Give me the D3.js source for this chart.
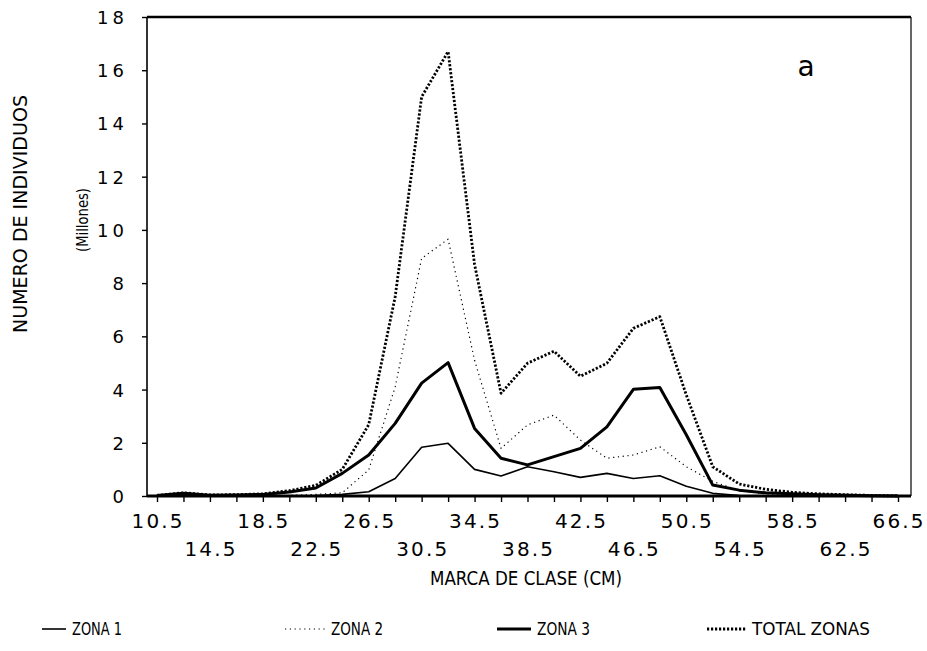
<!DOCTYPE html>
<html>
<head>
<meta charset="utf-8">
<script src="https://cdn.jsdelivr.net/npm/d3@7"></script>
<style>
  html, body { margin: 0; padding: 0; background: #fff; }
  svg { display: block; }
  text { font-family: "DejaVu Sans", "Liberation Sans", sans-serif; fill: #000; }
</style>
</head>
<body>
<svg id="chart" width="927" height="651"></svg>
<script>
// Class marks (cm)
const classMarks = [10.5, 12.5, 14.5, 16.5, 18.5, 20.5, 22.5, 24.5, 26.5, 28.5,
                    30.5, 32.5, 34.5, 36.5, 38.5, 40.5, 42.5, 44.5, 46.5, 48.5,
                    50.5, 52.5, 54.5, 56.5, 58.5, 60.5, 62.5, 64.5, 66.5];

// Number of individuals (millions) per zone
const zona1 = [0, 0, 0, 0, 0, 0.01, 0.02, 0.06, 0.16, 0.66,
               1.83, 1.98, 1.0, 0.75, 1.1, 0.91, 0.7, 0.85, 0.66, 0.76,
               0.37, 0.1, 0.02, 0.01, 0, 0, 0, 0, 0];
const zona2 = [0, 0, 0, 0, 0, 0.02, 0.06, 0.12, 0.98, 4.1,
               8.93, 9.65, 5.1, 1.79, 2.67, 3.04, 2.1, 1.42, 1.54, 1.85,
               1.1, 0.55, 0.2, 0.08, 0.05, 0.03, 0.02, 0, 0];
const zona3 = [0.02, 0.1, 0.03, 0.04, 0.06, 0.15, 0.3, 0.85, 1.54, 2.73,
               4.24, 5.01, 2.54, 1.42, 1.17, 1.48, 1.79, 2.6, 4.01, 4.08,
               2.3, 0.41, 0.22, 0.12, 0.08, 0.05, 0.03, 0.01, 0];
const totalZonas = [0.02, 0.12, 0.04, 0.05, 0.08, 0.2, 0.4, 1.0, 2.68, 7.49,
                    15.0, 16.7, 8.7, 3.86, 4.99, 5.44, 4.5, 4.99, 6.3, 6.74,
                    3.8, 1.1, 0.45, 0.25, 0.14, 0.08, 0.05, 0.02, 0];

// Axis ticks and labels
const yTicks = [0, 2, 4, 6, 8, 10, 12, 14, 16, 18];
const xLabelsUpper = ["10.5", "18.5", "26.5", "34.5", "42.5", "50.5", "58.5", "66.5"];
const xLabelsLower = ["14.5", "22.5", "30.5", "38.5", "46.5", "54.5", "62.5"];

const seriesNames = ["ZONA 1", "ZONA 2", "ZONA 3", "TOTAL ZONAS"];

const svg = d3.select("#chart");

const frame = { left: 147, right: 911, top: 17, bottom: 496 };
const x = d3.scaleLinear().domain([10.5, 66.5]).range([157, 898]);
const y = d3.scaleLinear().domain([0, 18]).range([frame.bottom, frame.top]);

// Line styles per series
const styles = [
  { width: 1.6, dash: null },
  { width: 1.2, dash: "1.2,3.6" },
  { width: 3, dash: null },
  { width: 2.8, dash: "2.2,1.8" }
];
const seriesData = [zona1, zona2, zona3, totalZonas];

// Frame
svg.append("line").attr("x1", frame.left).attr("x2", frame.right)
  .attr("y1", frame.top).attr("y2", frame.top)
  .attr("stroke", "#000").attr("stroke-width", 2.5);
svg.append("line").attr("x1", frame.right).attr("x2", frame.right)
  .attr("y1", frame.top).attr("y2", frame.bottom)
  .attr("stroke", "#000").attr("stroke-width", 1.2);
svg.append("line").attr("x1", frame.left).attr("x2", frame.left)
  .attr("y1", frame.top).attr("y2", frame.bottom + 1)
  .attr("stroke", "#000").attr("stroke-width", 1.6);

// Y axis
const yAxis = d3.axisLeft(y).tickValues(yTicks).tickSizeInner(5).tickSizeOuter(0)
  .tickPadding(18).tickFormat(d3.format("d"));
const gy = svg.append("g").attr("transform", `translate(${frame.left},0)`).call(yAxis);
gy.select(".domain").remove();
gy.selectAll(".tick line").attr("stroke", "#000").attr("stroke-width", 1.4);
gy.selectAll(".tick text")
  .attr("font-size", 18)
  .attr("font-family", "DejaVu Sans, sans-serif")
  .attr("dy", "0.36em")
  .each(function(d) {
    const s = String(d);
    if (s.length > 1) d3.select(this).attr("textLength", 27).attr("lengthAdjust", "spacing");
  });

// X axis ticks
const xAxis = d3.axisBottom(x).tickValues(classMarks).tickSizeInner(6).tickSizeOuter(0)
  .tickFormat("");
const gx = svg.append("g").attr("transform", `translate(0,${frame.bottom})`).call(xAxis);
gx.select(".domain").remove();
gx.selectAll(".tick line").attr("stroke", "#000").attr("stroke-width", 1.4);
svg.append("line").attr("x1", frame.left).attr("x2", frame.right)
  .attr("y1", frame.bottom).attr("y2", frame.bottom)
  .attr("stroke", "#000").attr("stroke-width", 3);

// X tick labels in two staggered rows
function drawXLabels(labels, cy) {
  svg.append("g").selectAll("text").data(labels).join("text")
    .attr("x", d => x(+d))
    .attr("y", cy)
    .attr("text-anchor", "middle")
    .attr("dy", "0.36em")
    .attr("font-size", 20)
    .attr("textLength", 51)
    .attr("lengthAdjust", "spacing")
    .text(d => d);
}
drawXLabels(xLabelsUpper, 521);
drawXLabels(xLabelsLower, 549);

// Series lines
const line = d3.line().x((d, i) => x(classMarks[i])).y(d => y(d));
seriesData.forEach((vals, k) => {
  svg.append("path")
    .datum(vals)
    .attr("d", line)
    .attr("fill", "none")
    .attr("stroke", "#000")
    .attr("stroke-width", styles[k].width)
    .attr("stroke-linejoin", "round")
    .attr("stroke-dasharray", styles[k].dash);
});

// Axis titles
svg.append("text")
  .attr("transform", "translate(20,214) rotate(-90)")
  .attr("text-anchor", "middle").attr("dy", "0.36em")
  .attr("font-size", 19)
  .attr("textLength", 238).attr("lengthAdjust", "spacingAndGlyphs")
  .text("NUMERO DE INDIVIDUOS");
svg.append("text")
  .attr("transform", "translate(82,220) rotate(-90)")
  .attr("text-anchor", "middle").attr("dy", "0.36em")
  .attr("font-size", 16)
  .attr("textLength", 64).attr("lengthAdjust", "spacingAndGlyphs")
  .text("(Millones)");
svg.append("text")
  .attr("x", 526).attr("y", 578)
  .attr("text-anchor", "middle").attr("dy", "0.36em")
  .attr("font-size", 19)
  .attr("textLength", 192).attr("lengthAdjust", "spacingAndGlyphs")
  .text("MARCA DE CLASE (CM)");

// Panel letter
svg.append("text")
  .attr("x", 806).attr("y", 76)
  .attr("text-anchor", "middle")
  .attr("font-size", 28)
  .text("a");

// Legend
const legendItems = [
  { x1: 42, x2: 66, tx: 72, tw: 50 },
  { x1: 285, x2: 325, tx: 331, tw: 52 },
  { x1: 497, x2: 531, tx: 537, tw: 53 },
  { x1: 707, x2: 747, tx: 752, tw: 118 }
];
const legendY = 629;
legendItems.forEach((it, k) => {
  svg.append("line")
    .attr("x1", it.x1).attr("x2", it.x2)
    .attr("y1", legendY).attr("y2", legendY)
    .attr("stroke", "#000")
    .attr("stroke-width", styles[k].width)
    .attr("stroke-dasharray", styles[k].dash);
  svg.append("text")
    .attr("x", it.tx).attr("y", legendY)
    .attr("dy", "0.36em")
    .attr("font-size", 18)
    .attr("textLength", it.tw).attr("lengthAdjust", "spacingAndGlyphs")
    .text(seriesNames[k]);
});
</script>
</body>
</html>
